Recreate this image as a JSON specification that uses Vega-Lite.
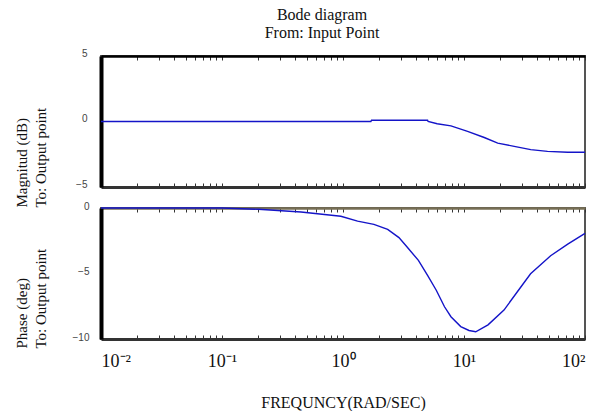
{
  "$schema": "https://vega.github.io/schema/vega-lite/v6.json",
  "padding": {"left": 13, "top": 6, "right": 10, "bottom": 0},
  "background": "white",
  "datasets": {
    "mag": [
      {"f": 0.01, "v": 0}, {"f": 0.1, "v": 0}, {"f": 1, "v": 0}, {"f": 1.7, "v": 0},
      {"f": 1.72, "v": 0.1}, {"f": 5.0, "v": 0.1}, {"f": 5.05, "v": 0}, {"f": 6.0, "v": -0.17},
      {"f": 7.8, "v": -0.33}, {"f": 10.7, "v": -0.76}, {"f": 14.7, "v": -1.22}, {"f": 19, "v": -1.65},
      {"f": 26, "v": -1.9}, {"f": 35.6, "v": -2.15}, {"f": 49, "v": -2.28}, {"f": 72, "v": -2.35},
      {"f": 100, "v": -2.35}
    ],
    "phase": [
      {"f": 0.01, "v": 0}, {"f": 0.1, "v": 0}, {"f": 0.2, "v": -0.1}, {"f": 0.45, "v": -0.3},
      {"f": 0.96, "v": -0.63}, {"f": 1.32, "v": -1.0}, {"f": 1.8, "v": -1.25}, {"f": 2.34, "v": -1.63},
      {"f": 2.9, "v": -2.26}, {"f": 3.4, "v": -3.0}, {"f": 4.2, "v": -4.0}, {"f": 5.0, "v": -5.15},
      {"f": 5.9, "v": -6.28}, {"f": 6.9, "v": -7.54}, {"f": 7.8, "v": -8.3}, {"f": 9.4, "v": -9.05},
      {"f": 11, "v": -9.35}, {"f": 12.5, "v": -9.45}, {"f": 15.8, "v": -8.92}, {"f": 21.4, "v": -7.79},
      {"f": 29.5, "v": -6.03}, {"f": 35.5, "v": -5.02}, {"f": 52, "v": -3.64}, {"f": 72, "v": -2.76},
      {"f": 100, "v": -1.93}
    ]
  },
  "config": {
    "view": {"stroke": "#555", "strokeWidth": 2},
    "axis": {
      "grid": false,
      "labelFont": "Liberation Sans",
      "labelFontSize": 10,
      "labelColor": "#444",
      "titleFont": "Liberation Serif",
      "titleFontWeight": "normal",
      "titleFontSize": 15,
      "titleColor": "#111",
      "tickColor": "#333"
    },
    "concat": {"spacing": -9}
  },
  "vconcat": [
    {
      "title": {
        "text": ["Bode diagram", "From: Input Point"],
        "font": "Liberation Serif",
        "fontSize": 16,
        "fontWeight": "normal",
        "color": "#111",
        "lineHeight": 18,
        "anchor": "middle",
        "dx": -21,
        "offset": 7
      },
      "width": 484,
      "height": 131,
      "layer": [
        {
          "data": {"name": "mag"},
          "mark": {"type": "line", "color": "#1414c8", "strokeWidth": 1.4},
          "encoding": {
            "x": {
              "field": "f", "type": "quantitative",
              "scale": {"type": "log", "domain": [0.01, 100]},
              "axis": {
                "orient": "bottom",
                "values": [0.01,0.02,0.03,0.04,0.05,0.06,0.07,0.08,0.09,0.1,0.2,0.3,0.4,0.5,0.6,0.7,0.8,0.9,1,2,3,4,5,6,7,8,9,10,20,30,40,50,60,70,80,90,100],
                "labels": false, "tickSize": -4, "domainColor": "#333", "domainWidth": 3, "title": null,
                "minExtent": 0, "maxExtent": 0
              }
            },
            "y": {
              "field": "v", "type": "quantitative",
              "scale": {"domain": [-5, 5]},
              "axis": {
                "values": [-5, 0, 5], "tickSize": 0, "labelPadding": 14, "labelOffset": -3,
                "domainColor": "#000", "domainWidth": 4,
                "title": ["Magnitud (dB)", "To: Output point"],
                "titleAlign": "left", "titleAngle": -90, "titleX": -87, "titleY": 151,
                "titleBaseline": "top", "titleLineHeight": 19
              }
            }
          }
        },
        {
          "data": {"name": "mag"},
          "mark": {"type": "rule", "opacity": 0},
          "encoding": {
            "x": {
              "field": "f", "type": "quantitative",
              "scale": {"type": "log", "domain": [0.01, 100]},
              "axis": {
                "orient": "top",
                "values": [0.01,0.02,0.03,0.04,0.05,0.06,0.07,0.08,0.09,0.1,0.2,0.3,0.4,0.5,0.6,0.7,0.8,0.9,1,2,3,4,5,6,7,8,9,10,20,30,40,50,60,70,80,90,100],
                "labels": false, "tickSize": -4, "domainColor": "#000", "domainWidth": 2.5, "title": null,
                "minExtent": 0, "maxExtent": 0
              }
            }
          }
        }
      ],
      "resolve": {"axis": {"x": "independent"}}
    },
    {
      "width": 484,
      "height": 131,
      "layer": [
        {
          "data": {"name": "phase"},
          "mark": {"type": "line", "color": "#1414c8", "strokeWidth": 1.4},
          "encoding": {
            "x": {
              "field": "f", "type": "quantitative",
              "scale": {"type": "log", "domain": [0.01, 100]},
              "axis": {
                "orient": "bottom",
                "values": [0.01,0.02,0.03,0.04,0.05,0.06,0.07,0.08,0.09,0.1,0.2,0.3,0.4,0.5,0.6,0.7,0.8,0.9,1,2,3,4,5,6,7,8,9,10,20,30,40,50,60,70,80,90,100],
                "labelExpr": "datum.value == 0.01 ? '10⁻²' : datum.value == 0.1 ? '10⁻¹' : datum.value == 1 ? '10⁰' : datum.value == 10 ? '10¹' : datum.value == 100 ? '10²' : ''",
                "labelFont": "Liberation Serif", "labelFontSize": 18, "labelColor": "#111",
                "labelFlush": true, "labelOverlap": false, "labelPadding": 17,
                "tickSize": -4, "domainColor": "#333", "domainWidth": 3,
                "title": "FREQUNCY(RAD/SEC)", "titleFontSize": 16, "titlePadding": 24
              }
            },
            "y": {
              "field": "v", "type": "quantitative",
              "scale": {"domain": [-10, 0]},
              "axis": {
                "values": [-10, -5, 0], "tickSize": 0, "labelPadding": 12, "labelOffset": -2,
                "domainColor": "#000", "domainWidth": 4,
                "title": ["Phase (deg)", "To: Output point"],
                "titleAlign": "left", "titleAngle": -90, "titleX": -87, "titleY": 140,
                "titleBaseline": "top", "titleLineHeight": 19
              }
            }
          }
        },
        {
          "data": {"name": "phase"},
          "mark": {"type": "rule", "opacity": 0},
          "encoding": {
            "x": {
              "field": "f", "type": "quantitative",
              "scale": {"type": "log", "domain": [0.01, 100]},
              "axis": {
                "orient": "top",
                "values": [0.01,0.02,0.03,0.04,0.05,0.06,0.07,0.08,0.09,0.1,0.2,0.3,0.4,0.5,0.6,0.7,0.8,0.9,1,2,3,4,5,6,7,8,9,10,20,30,40,50,60,70,80,90,100],
                "labels": false, "tickSize": -4, "domainColor": "#776f55", "domainWidth": 2.5, "title": null,
                "minExtent": 0, "maxExtent": 0
              }
            }
          }
        }
      ],
      "resolve": {"axis": {"x": "independent"}}
    }
  ]
}
